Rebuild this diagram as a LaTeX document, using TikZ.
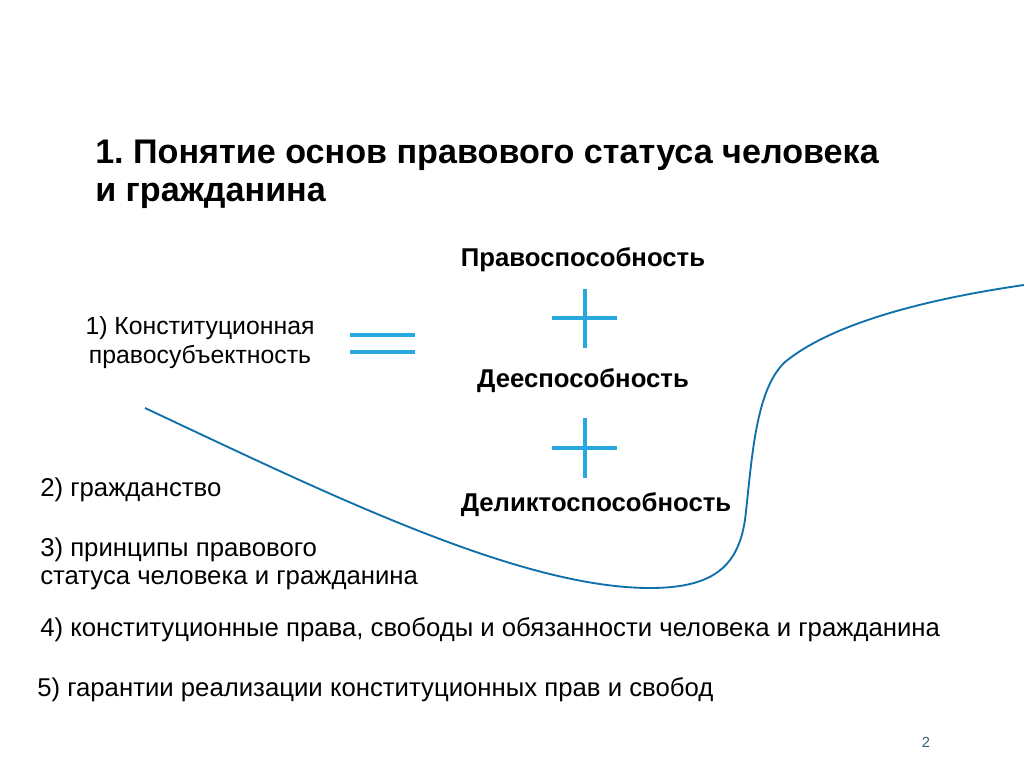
\documentclass[tikz,border=0pt]{standalone}
\usepackage{fontspec}
\setmainfont{Liberation Sans}
\usetikzlibrary{positioning}
\definecolor{signblue}{RGB}{41,168,224}
\definecolor{curveblue}{RGB}{16,112,170}
\definecolor{pagegray}{RGB}{50,95,115}
\tikzset{
  titletext/.style={
    anchor=west, align=left, inner sep=0pt,
    font=\fontsize{25.6}{28.5}\selectfont\bfseries
  },
  termtext/.style={
    inner sep=0pt, font=\fontsize{19.3}{22}\selectfont\bfseries
  },
  itemtext/.style={
    anchor=west, align=left, inner sep=0pt,
    font=\fontsize{19.3}{21}\selectfont
  },
  signline/.style={
    draw=signblue, line width=2.4pt
  },
  curveline/.style={
    draw=curveblue, line width=1.4pt
  },
}

\begin{document}
\frenchspacing
\begin{tikzpicture}[x=0.75pt, y=-0.75pt]
  \useasboundingbox (0,0) rectangle (1024,767);

  %% Title
  \node[titletext] (title) at (95,174)
    {1. Понятие основ правового статуса человека\\и гражданина};

  %% Terms on the right
  \node[termtext] (pravo) at (583,260) {Правоспособность};
  \node[termtext] (dee) at (583,381) {Дееспособность};
  \node[termtext] (delikt) at (596,505) {Деликтоспособность};

  %% Plus signs
  \draw[signline] (552,318) -- (617,318);
  \draw[signline] (585,289) -- (585,348);
  \draw[signline] (552,448) -- (617,448);
  \draw[signline] (585,418) -- (585,478);

  %% Left side
  \node[itemtext, anchor=center, align=center,
        font=\fontsize{18.6}{21.75}\selectfont] (konst) at (200,343)
    {1) Конституционная\\правосубъектность};
  \draw[signline] (350,335) -- (415,335);
  \draw[signline] (350,352) -- (415,352);

  \node[itemtext] (grazh) at (40,490) {2) гражданство};
  \node[itemtext] (princ) at (40,564)
    {3) принципы правового\\статуса человека и гражданина};
  \node[itemtext] (prava) at (40,630)
    {4) конституционные права, свободы и обязанности человека и гражданина};
  \node[itemtext] (garant) at (37,690)
    {5) гарантии реализации конституционных прав и свобод};

  %% Curve
  \draw[curveline] (145,408)
    .. controls (330,495) and (520,588) .. (650,588)
    .. controls (715,588) and (738,565) .. (745,520)
    .. controls (752,460) and (755,390) .. (785,362)
    .. controls (830,325) and (920,300) .. (1024,285);

  %% Page number
  \node[inner sep=0pt, font=\fontsize{11}{12}\selectfont, text=pagegray]
    (page) at (926,742) {2};

\end{tikzpicture}
\end{document}
